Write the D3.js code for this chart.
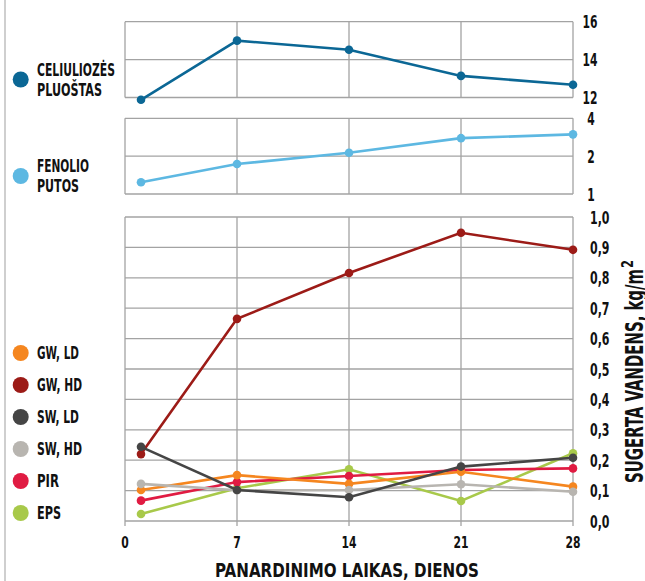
<!DOCTYPE html>
<html>
<head>
<meta charset="utf-8">
<script src="https://cdn.jsdelivr.net/npm/d3@7"></script>
<style>
  body { margin: 0; background: #fff; }
  text { font-family: "DejaVu Sans Condensed", "DejaVu Sans", sans-serif; font-stretch: condensed; font-weight: bold; fill: #111; }
</style>
</head>
<body>
<div class="chart"></div>
<script>
let W = 645, H = 581;
let days = [1, 7, 14, 21, 28];
let xTicks = [0, 7, 14, 21, 28];

// panel 1 and 2 series
let celiuliozes = [11.88, 15.0, 14.52, 13.14, 12.67];
let fenolio = [1.24, 1.73, 2.13, 2.78, 2.98];

// panel 3 series
let gwLD = [0.102, 0.151, 0.122, 0.162, 0.113];
let gwHD = [0.22, 0.665, 0.816, 0.948, 0.892];
let swLD = [0.244, 0.102, 0.078, 0.179, 0.208];
let swHD = [0.122, 0.101, 0.102, 0.121, 0.096];
let pir = [0.067, 0.128, 0.148, 0.168, 0.173];
let eps = [0.023, 0.108, 0.170, 0.066, 0.223];

let bottomSeries = [
  {name: "GW, LD", values: gwLD, color: "#f5861f", w: 42},
  {name: "GW, HD", values: gwHD, color: "#9c1b17", w: 45},
  {name: "SW, LD", values: swLD, color: "#454545", w: 42},
  {name: "SW, HD", values: swHD, color: "#b8b5b0", w: 45},
  {name: "PIR", values: pir, color: "#e01b42", w: 22},
  {name: "EPS", values: eps, color: "#a8c94a", w: 24}
];
// drawing order (back to front)
let drawOrder = ["GW, HD", "EPS", "PIR", "GW, LD", "SW, HD", "SW, LD"];

let svg = d3.select(".chart").append("svg")
  .attr("width", W).attr("height", H);

// squeeze text to a width (the original font is very condensed)
function fit(sel, w) {
  sel.attr("textLength", w).attr("lengthAdjust", "spacingAndGlyphs");
}
function numWidth(s) {
  s = String(s);
  return s.replace(/[^0-9]/g, "").length * 7.5 + s.replace(/[0-9]/g, "").length * 4.5;
}

// left strip line
svg.append("line").attr("x1", 5).attr("x2", 5).attr("y1", 0).attr("y2", H)
  .attr("stroke", "#cfcfcf").attr("stroke-width", 2);

let xScale = d3.scaleLinear().domain([0, 28]).range([125, 573]);

function drawFrame(yScale, yTicks, top, bottom) {
  let g = svg.append("g");
  g.selectAll(".hgrid").data(yTicks).enter().append("line")
    .attr("x1", xScale(0)).attr("x2", xScale(28))
    .attr("y1", d => yScale(d)).attr("y2", d => yScale(d))
    .attr("stroke", "#a3a3a3").attr("stroke-width", 1.3);
  g.selectAll(".vgrid").data(xTicks).enter().append("line")
    .attr("x1", d => xScale(d)).attr("x2", d => xScale(d))
    .attr("y1", top).attr("y2", bottom)
    .attr("stroke", "#a3a3a3").attr("stroke-width", 1.3);
  return g;
}

function drawLine(values, color, yScale) {
  let line = d3.line().x((d, i) => xScale(days[i])).y(d => yScale(d));
  svg.append("path").datum(values)
    .attr("d", line).attr("fill", "none")
    .attr("stroke", color).attr("stroke-width", 2.6);
  svg.selectAll(null).data(values).enter().append("circle")
    .attr("cx", (d, i) => xScale(days[i]))
    .attr("cy", d => yScale(d))
    .attr("r", 4.3).attr("fill", color);
}

function rightLabels(yScale, ticks, fmt, x, anchor) {
  svg.selectAll(null).data(ticks).enter().append("text")
    .attr("x", x).attr("y", d => yScale(d) + 6.5)
    .attr("text-anchor", anchor)
    .attr("font-size", 17)
    .text(fmt)
    .each(function(d) { fit(d3.select(this), numWidth(fmt(d))); });
}

// panel 1
let y1 = d3.scaleLinear().domain([12, 16]).range([97.5, 21.7]);
drawFrame(y1, [12, 14, 16], 21.7, 97.5);
drawLine(celiuliozes, "#0b6795", y1);
rightLabels(y1, [12, 14, 16], d => d, 590, "middle");

// panel 2
let y2 = d3.scaleLog().base(2).domain([1, 4]).range([194, 118.3]);
drawFrame(y2, [1, 2, 4], 118.3, 194);
drawLine(fenolio, "#5db8e2", y2);
rightLabels(y2, [1, 2, 4], d => d, 591, "middle");

// panel 3
let y3 = d3.scaleLinear().domain([0, 1]).range([521, 217]);
let y3Ticks = d3.range(0, 11).map(d => d / 10);
drawFrame(y3, y3Ticks, 217, 521);
svg.selectAll(null).data(xTicks).enter().append("line")
  .attr("x1", d => xScale(d)).attr("x2", d => xScale(d))
  .attr("y1", 521).attr("y2", 526)
  .attr("stroke", "#a3a3a3").attr("stroke-width", 1.3);
drawOrder.forEach(n => {
  let s = bottomSeries.find(b => b.name == n);
  drawLine(s.values, s.color, y3);
});
rightLabels(y3, y3Ticks, d => d3.format(".1f")(d).replace(".", ","), 590, "start");

// x tick labels
svg.selectAll(null).data(xTicks).enter().append("text")
  .attr("x", d => xScale(d)).attr("y", 548)
  .attr("text-anchor", "middle").attr("font-size", 16)
  .text(d => d)
  .each(function(d) { fit(d3.select(this), numWidth(d)); });

// x title
svg.append("text").attr("x", 347).attr("y", 577)
  .attr("text-anchor", "middle").attr("font-size", 20)
  .text("PANARDINIMO LAIKAS, DIENOS")
  .call(fit, 264);

// y title
svg.append("text")
  .attr("transform", "translate(643,483) rotate(-90)")
  .attr("font-size", 25)
  .text("SUGERTA VANDENS, kg/m")
  .call(fit, 214);
svg.append("text")
  .attr("transform", "translate(633,268) rotate(-90)")
  .attr("font-size", 15)
  .text("2")
  .call(fit, 8);

// legend
let legend = [
  {lines: ["CELIULIOZĖS", "PLUOŠTAS"], w: [78, 65], color: "#0b6795", y: 79.5},
  {lines: ["FENOLIO", "PUTOS"], w: [52, 42], color: "#5db8e2", y: 176}
].concat(bottomSeries.map((s, i) => ({lines: [s.name], w: [s.w], color: s.color, y: 353 + i * 32})));

legend.forEach(l => {
  svg.append("circle").attr("cx", 20.7).attr("cy", l.y).attr("r", 8).attr("fill", l.color);
  let n = l.lines.length;
  l.lines.forEach((t, j) => {
    svg.append("text").attr("x", 37)
      .attr("y", l.y + 6 + (j - (n - 1) / 2) * 20)
      .attr("font-size", 17)
      .text(t)
      .call(fit, l.w[j]);
  });
});
</script>
</body>
</html>
